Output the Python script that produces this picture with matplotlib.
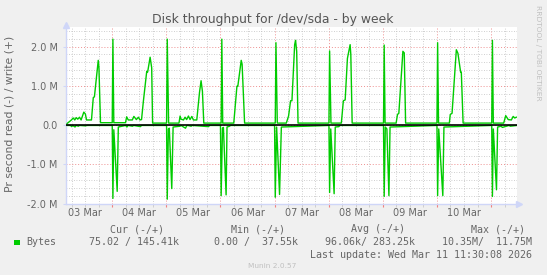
import numpy as np
import matplotlib
matplotlib.use("Agg")
import matplotlib.pyplot as plt
import matplotlib.dates as mdates
from matplotlib.ticker import MultipleLocator, FuncFormatter
from matplotlib.patches import Rectangle

# ---- data (hours since 2026-03-03 00:00, values in millions of bytes/s) ----
write_h = [4.0, 5.9, 6.7, 7.4, 8.0, 8.7, 9.5, 10.2, 11.4, 12.1, 12.6, 14.8, 15.6, 16.1, 17.8, 18.1, 18.8,
           24.0, 24.3, 24.7, 29.9, 30.4, 31.1, 32.9, 33.6, 34.7, 35.6, 36.3, 37.0, 37.8, 39.3, 39.7,
           40.8, 41.5, 41.9, 48.1, 48.4, 49.0, 53.6, 54.1, 54.5, 55.6, 56.3, 57.0, 57.8, 58.5, 59.3,
           60.0, 61.5, 62.7, 63.4, 64.0, 64.6, 72.3, 72.6, 73.0, 77.9, 79.3, 79.7, 81.2, 81.6, 82.7,
           96.3, 96.6, 97.2, 101.2, 102.2, 103.1, 103.7, 104.9, 105.3, 105.8, 106.4, 120.1, 120.4,
           121.0, 125.6, 126.5, 127.3, 128.3, 129.5, 129.8, 130.4, 144.3, 144.6, 145.0, 149.9, 150.5,
           151.1, 152.9, 153.5, 154.1, 168.0, 168.3, 168.7, 173.5, 173.9, 174.7, 176.6, 177.3, 178.5,
           178.8, 179.6, 192.3, 192.6, 193.0, 197.6, 198.5, 199.6, 201.0, 201.8, 202.5, 203.2]
write_v = [0.04, 0.13, 0.18, 0.13, 0.19, 0.15, 0.20, 0.13, 0.33, 0.28, 0.13, 0.13, 0.70, 0.72, 1.65, 1.47, 0.06,
           0.06, 2.19, 0.06, 0.06, 0.21, 0.13, 0.13, 0.22, 0.14, 0.20, 0.13, 0.14, 0.60, 1.37, 1.35,
           1.73, 1.46, 0.05, 0.05, 2.19, 0.05, 0.05, 0.23, 0.15, 0.13, 0.20, 0.14, 0.23, 0.14, 0.22,
           0.13, 0.13, 0.83, 1.13, 0.86, 0.05, 0.05, 2.19, 0.05, 0.05, 0.99, 0.99, 1.65, 1.55, 0.05,
           0.05, 2.10, 0.05, 0.05, 0.23, 0.62, 0.62, 2.05, 2.16, 1.88, 0.05, 0.05, 1.89,
           0.05, 0.05, 0.62, 0.64, 1.70, 2.05, 1.80, 0.05, 0.05, 2.04, 0.05, 0.05, 0.27,
           0.30, 1.88, 1.84, 0.05, 0.05, 2.10, 0.05, 0.05, 0.27, 0.30, 1.92, 1.83, 1.35,
           1.35, 0.05, 0.05, 2.16, 0.05, 0.05, 0.24, 0.14, 0.13, 0.22, 0.18, 0.20]

read_h = [4.0, 5.5, 6.0, 6.5, 7.5, 8.0, 9.0, 9.5, 12.0, 13.0, 24.0, 24.3, 24.7, 26.2, 26.7, 30.0, 30.5,
          31.0, 33.0, 33.5, 36.5, 37.0, 48.1, 48.4, 48.9, 49.3, 50.4, 51.0, 54.0, 54.5, 56.5, 57.0,
          57.5, 59.0, 59.5, 66.7, 67.2, 72.0, 72.3, 72.9, 73.3, 74.5, 74.9, 76.0, 76.5, 96.0, 96.3,
          96.9, 98.2, 99.0, 120.1, 120.4, 120.9, 122.4, 122.9, 124.5, 125.0, 144.3, 144.6, 145.1,
          145.8, 146.7, 147.2, 168.0, 168.3, 168.8, 170.6, 171.1, 192.3, 192.6, 193.0, 194.4,
          194.9, 196.5, 197.0, 200.0, 200.5, 203.5]
read_v = [-0.01, -0.01, -0.04, -0.01, -0.05, -0.01, -0.03, -0.01, -0.02, -0.01, -0.01, -1.87, -0.12, -1.69, -0.05, -0.01, -0.05,
          -0.01, -0.03, -0.01, -0.04, -0.01, -0.01, -1.89, -0.10, -0.08, -1.62, -0.05, -0.03, -0.01, -0.08, -0.02,
          -0.01, -0.03, -0.01, -0.04, -0.01, -0.01, -1.80, -0.08, -0.06, -1.78, -0.05, -0.03, -0.01, -0.01, -1.84,
          -0.05, -1.77, -0.05, -0.01, -1.72, -0.10, -1.75, -0.05, -0.04, -0.01, -0.01, -1.82, -0.05,
          -0.10, -1.80, -0.05, -0.01, -1.80, -0.10, -1.80, -0.05, -0.01, -1.82, -0.10, -1.65,
          -0.05, -0.03, -0.06, -0.01, -0.03, -0.01]

day_labels = ["03 Mar", "04 Mar", "05 Mar", "06 Mar", "07 Mar", "08 Mar", "09 Mar", "10 Mar"]
legend_headers = ["Cur (-/+)", "Min (-/+)", "Avg (-/+)", "Max (-/+)"]
legend_values = ["75.02 / 145.41k", "0.00 /  37.55k", "96.06k/ 283.25k", "10.35M/  11.75M"]
series_name = "Bytes"
last_update = "Last update: Wed Mar 11 11:30:08 2026"

# ---- helpers ----
base = np.datetime64("2026-03-03T00:00:00")
def to_dt(hours):
    return base + (np.asarray(hours) * 3600).astype("timedelta64[s]")

W, H = 547, 275
fig = plt.figure(figsize=(W / 100, H / 100), dpi=100, facecolor="#F0F0F0")
L, R, T, B = 66, 517, 27, 203.5
ax = fig.add_axes([L / W, 1 - B / H, (R - L) / W, (B - T) / H])
ax.set_facecolor("white")

FONT = "#666666"
GREEN = "#00CC00"
AXC = "#CFD6F8"

ax.plot(to_dt(write_h), write_v, color=GREEN, lw=1.0, zorder=3)
ax.plot(to_dt(read_h), read_v, color=GREEN, lw=1.0, zorder=3)
ax.axhline(0, color="black", lw=1.2, zorder=4)

x0, x1 = to_dt(3.5), to_dt(203.5)
ax.set_xlim(x0, x1)
ax.set_ylim(-2.0, 2.5)

# grids
ax.yaxis.set_major_locator(MultipleLocator(1.0))
ax.yaxis.set_minor_locator(MultipleLocator(0.2))
ax.xaxis.set_major_locator(mdates.DayLocator())
ax.xaxis.set_minor_locator(mdates.HourLocator(byhour=[0, 6, 12, 18]))
ax.grid(which="minor", color="#C0C0C0", lw=0.6, ls=(0, (1, 2)))
ax.grid(which="major", color="#EE9090", lw=0.7, ls=(0, (1, 2)))
ax.set_axisbelow(True)

def yfmt(v, pos):
    if abs(v) < 1e-9:
        return "0.0"
    return f"{v:.1f} M"
ax.yaxis.set_major_formatter(FuncFormatter(yfmt))
ax.xaxis.set_major_formatter(FuncFormatter(lambda v, p: ""))

ax.tick_params(axis="y", which="major", length=2, color=AXC, labelsize=7, labelcolor=FONT, pad=4)
ax.tick_params(axis="y", which="minor", length=0)
ax.tick_params(axis="x", which="major", length=2, color="#F08080", pad=1)
ax.tick_params(axis="x", which="minor", length=2, color="#C8C8C8")

for i, lab in enumerate(day_labels):
    ax.text(to_dt(12 + 24 * i), -0.055, lab, transform=ax.get_xaxis_transform(),
            ha="center", va="center", fontsize=7, color=FONT)

for s in ["top", "right"]:
    ax.spines[s].set_visible(False)
for s in ["left", "bottom"]:
    ax.spines[s].set_color(AXC)
    ax.spines[s].set_linewidth(1.0)
ax.plot([0], [1.01], marker="^", ms=4, color=AXC, transform=ax.transAxes, clip_on=False)
ax.plot([1.005], [0], marker=">", ms=4, color=AXC, transform=ax.transAxes, clip_on=False)

# titles
fig.text(273 / W, 1 - 19 / H, "Disk throughput for /dev/sda - by week", ha="center", va="center",
         fontsize=8.9, color="#555555")
fig.text(10 / W, 1 - 114 / H, "Pr second read (-) / write (+)", rotation=90, ha="center", va="center",
         fontsize=7.8, color=FONT)
fig.text(538 / W, 1 - 53 / H, "RRDTOOL / TOBI OETIKER", rotation=270, ha="center", va="center",
         fontsize=5.4, color="#C0C0C0")

# legend
mono = "DejaVu Sans Mono"
hdr_right = [164, 285, 405, 525]
val_right = [179, 298, 415, 532]
for hx, h in zip(hdr_right, legend_headers):
    fig.text(hx / W, 1 - 229 / H, h, ha="right", va="center", fontsize=7.2, family=mono, color=FONT)
for vx, v in zip(val_right, legend_values):
    fig.text(vx / W, 1 - 242 / H, v, ha="right", va="center", fontsize=7.2, family=mono, color=FONT)
fig.patches.append(Rectangle((14 / W, 1 - 245 / H), 5.5 / W, 5.5 / H, transform=fig.transFigure,
                             facecolor=GREEN, edgecolor="none"))
fig.text(26 / W, 1 - 242 / H, series_name, ha="left", va="center", fontsize=7.2, family=mono, color=FONT)
fig.text(532 / W, 1 - 254.5 / H, last_update, ha="right", va="center", fontsize=7.2, family=mono, color=FONT)
fig.text(272 / W, 1 - 266.5 / H, "Munin 2.0.57", ha="center", va="center", fontsize=5.3, color="#C0C0C0")

fig.savefig("out.png", dpi=100, facecolor=fig.get_facecolor())
